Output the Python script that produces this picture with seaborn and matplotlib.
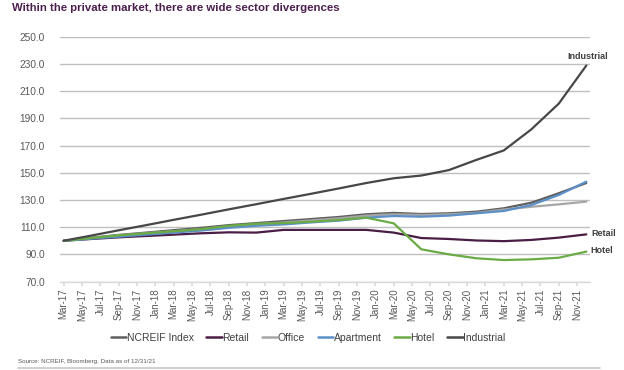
import numpy as np
import pandas as pd
import matplotlib
matplotlib.use("Agg")
import matplotlib.pyplot as plt
import seaborn as sns

# ---- data (quarterly, indexed Mar-17 = 100) ----
quarters = ["Mar-17", "Jun-17", "Sep-17", "Dec-17", "Mar-18", "Jun-18", "Sep-18", "Dec-18",
            "Mar-19", "Jun-19", "Sep-19", "Dec-19", "Mar-20", "Jun-20", "Sep-20", "Dec-20",
            "Mar-21", "Jun-21", "Sep-21", "Dec-21"]
ncreif = [100, 102.2, 104.3, 106.0, 107.8, 109.5, 111.5, 113.0, 114.5, 116.0, 117.5, 119.5,
          120.5, 119.7, 120.2, 121.4, 123.9, 128.0, 135.0, 142.5]
retail = [100, 101.3, 102.5, 103.5, 104.5, 105.5, 106.2, 106.0, 108.0, 108.0, 108.0, 108.0,
          106.0, 102.0, 101.3, 100.2, 99.7, 100.6, 102.3, 104.7]
office = [100, 102.0, 104.0, 105.5, 107.0, 108.5, 110.5, 112.0, 113.5, 115.0, 116.5, 118.5,
          119.5, 119.0, 119.5, 120.5, 123.0, 125.0, 126.8, 128.8]
apartment = [100, 101.5, 103.0, 104.5, 106.0, 107.5, 109.5, 111.0, 112.0, 113.5, 114.8, 117.0,
             118.2, 117.7, 118.5, 120.2, 121.9, 126.3, 133.7, 143.5]
hotel = [100, 102.0, 104.0, 105.5, 107.0, 108.5, 111.0, 112.5, 113.0, 114.0, 115.3, 117.0,
         112.8, 93.7, 90.0, 87.1, 85.8, 86.3, 87.5, 92.0]
industrial = [100, 103.8, 107.7, 111.5, 115.4, 119.2, 123.1, 126.9, 130.8, 134.6, 138.5, 142.5,
              146.0, 148.0, 152.0, 159.5, 166.5, 182.0, 201.0, 229.0]
tick_labels = ["Mar-17", "May-17", "Jul-17", "Sep-17", "Nov-17",
               "Jan-18", "Mar-18", "May-18", "Jul-18", "Sep-18", "Nov-18",
               "Jan-19", "Mar-19", "May-19", "Jul-19", "Sep-19", "Nov-19",
               "Jan-20", "Mar-20", "May-20", "Jul-20", "Sep-20", "Nov-20",
               "Jan-21", "Mar-21", "May-21", "Jul-21", "Sep-21", "Nov-21"]
series_names = ["NCREIF Index", "Retail", "Office", "Apartment", "Hotel", "Industrial"]
series_vals = [ncreif, retail, office, apartment, hotel, industrial]

colors = {"NCREIF Index": "#5f5f5f", "Retail": "#4a1d45", "Office": "#a6a6a6",
          "Apartment": "#5b8fc8", "Hotel": "#6aab45", "Industrial": "#474747"}

# month index of each quarter (Mar-17 = 0)
month_idx = [3 * i for i in range(len(quarters))]
rows = []
for name, vals in zip(series_names, series_vals):
    for m, q, v in zip(month_idx, quarters, vals):
        rows.append({"month": m, "quarter": q, "series": name, "value": v})
df = pd.DataFrame(rows)

sns.set_theme(style="white")
plt.rcParams["font.family"] = ["Liberation Sans", "DejaVu Sans"]

fig = plt.figure(figsize=(6.24, 3.70), dpi=100)
ax = fig.add_axes([60 / 624, 1 - 281.5 / 370, (590 - 60) / 624, (281.5 - 37) / 370])

sns.lineplot(data=df, x="month", y="value", hue="series", hue_order=series_names,
             palette=colors, linewidth=1.6, ax=ax, legend=False, sort=False)

ax.set_ylim(70, 250)
ax.set_yticks(np.arange(70, 251, 20))
ax.set_yticklabels([f"{v:.1f}" for v in np.arange(70, 251, 20)], color="#595959", fontsize=7.3)
ax.set_xlim(-0.4, 57.4)
ax.set_xticks(np.arange(0, 57, 2))
ax.set_xticklabels(tick_labels, rotation=90, color="#595959", fontsize=7)
ax.set_xlabel("")
ax.set_ylabel("")
ax.grid(axis="y", color="#bfbfbf", linewidth=1.0)
ax.set_axisbelow(True)
for s in ["top", "right", "left"]:
    ax.spines[s].set_visible(False)
ax.spines["bottom"].set_color("#d9d9d9")
ax.spines["bottom"].set_linewidth(1.0)
ax.tick_params(axis="x", length=3, color="#d9d9d9", pad=2, bottom=True)
ax.tick_params(axis="y", length=0, pad=11)

# end labels
ax.text(month_idx[-1] + 0.2, industrial[-1] + 3.5, "Industrial", fontsize=6.5, fontweight="bold",
        color="#404040", ha="center", va="bottom")
ax.text(month_idx[-1] + 0.5, retail[-1] + 0.5, "Retail", fontsize=6.5, fontweight="bold",
        color="#404040", ha="left", va="center")
ax.text(month_idx[-1] + 0.4, hotel[-1] + 1, "Hotel", fontsize=6.5, fontweight="bold",
        color="#404040", ha="left", va="center")

# legend
from matplotlib.lines import Line2D
handles = [Line2D([0], [0], color=colors[n], lw=1.8) for n in series_names]
fig.legend(handles, series_names, loc="center", bbox_to_anchor=(308 / 624, 1 - 338 / 370),
           ncol=6, frameon=False, fontsize=7.5, handlelength=1.5, handletextpad=0.05,
           columnspacing=1.2, labelcolor="#404040")

# title
fig.text(12 / 624, 1 - 8 / 370, "Within the private market, there are wide sector divergences",
         fontsize=8.2, fontweight="bold", color="#4b1f4e", ha="left", va="center")

# source
fig.text(18 / 624, 1 - 362 / 370, "Source: NCREIF, Bloomberg. Data as of 12/31/21",
         fontsize=4.5, color="#595959", ha="left", va="center")
fig.add_artist(Line2D([18 / 624, 600 / 624], [1 - 367.5 / 370, 1 - 367.5 / 370],
                      color="#c8c8c8", lw=1.2, transform=fig.transFigure))

fig.savefig("out.png", dpi=100)
